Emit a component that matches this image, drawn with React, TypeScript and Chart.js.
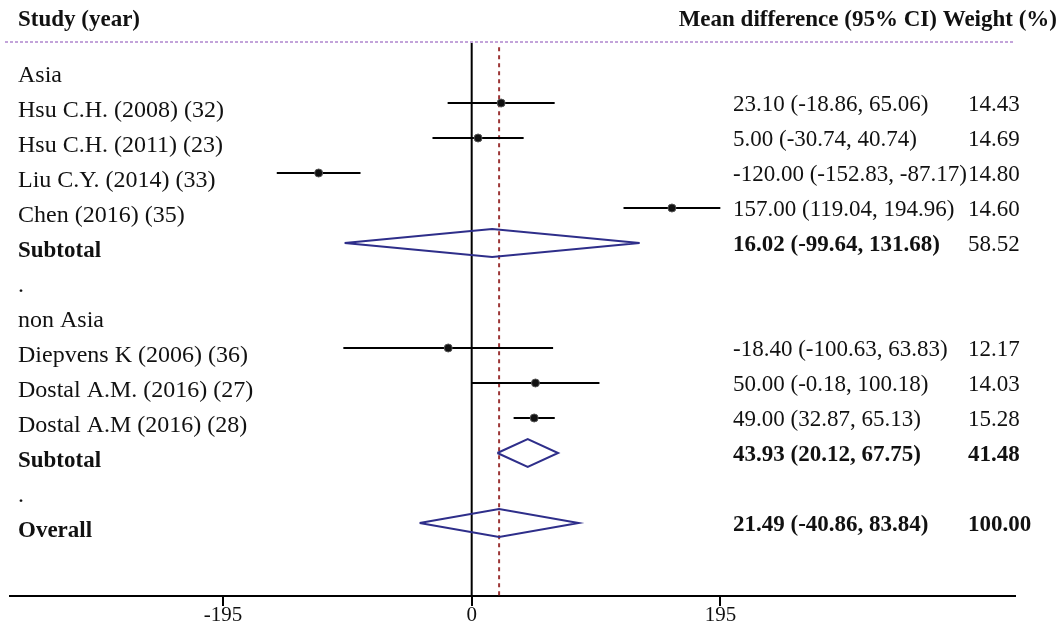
import React, { useEffect, useRef } from "react";
import { Chart, registerables } from "chart.js";

Chart.register(...registerables);

// ---------- data ----------
const headerLeft = "Study (year)";
const headerRight = "Mean difference (95% CI) Weight (%)";

const groupLabels = ["Asia", ".", "non Asia", "."];
const groupRows = [0, 6, 7, 12];

const studyLabels = [
  "Hsu C.H. (2008) (32)",
  "Hsu C.H. (2011) (23)",
  "Liu C.Y. (2014) (33)",
  "Chen (2016) (35)",
  "Diepvens K (2006) (36)",
  "Dostal A.M. (2016) (27)",
  "Dostal A.M (2016) (28)",
];
const studyRows = [1, 2, 3, 4, 8, 9, 10];
const studyMean = [23.1, 5.0, -120.0, 157.0, -18.4, 50.0, 49.0];
const studyLower = [-18.86, -30.74, -152.83, 119.04, -100.63, -0.18, 32.87];
const studyUpper = [65.06, 40.74, -87.17, 194.96, 63.83, 100.18, 65.13];
const studyWeight = ["14.43", "14.69", "14.80", "14.60", "12.17", "14.03", "15.28"];

const pooledLabels = ["Subtotal", "Subtotal", "Overall"];
const pooledRows = [5, 11, 13];
const pooledMean = [16.02, 43.93, 21.49];
const pooledLower = [-99.64, 20.12, -40.86];
const pooledUpper = [131.68, 67.75, 83.84];
const pooledWeight = ["58.52", "41.48", "100.00"];
const pooledWeightBold = [false, true, true];

const xTicks = [-195, 0, 195];
const overallEstimate = 21.49;

// ---------- layout / style ----------
const FONT = '"Liberation Serif", "Times New Roman", serif';
const TEXT_SIZE = 23;
const LEFT_SIZE = 24;
const X_MIN = -362;
const X_MAX = 426;
const Y_MIN = -0.743;
const Y_MAX = 15.086;
const DIAMOND_HALF = 0.4;
const DIAMOND_COLOR = "#2e2e8a";

const fmt = (m: number, l: number, u: number) =>
  `${m.toFixed(2)} (${l.toFixed(2)}, ${u.toFixed(2)})`;

const textPlugin = {
  id: "forestText",
  afterDraw(chart: any) {
    const ctx = chart.ctx as CanvasRenderingContext2D;
    const ys = chart.scales.y;
    const area = chart.chartArea;
    ctx.save();
    ctx.fillStyle = "#111";
    ctx.textBaseline = "middle";

    // headers
    ctx.font = `bold ${TEXT_SIZE}px ${FONT}`;
    ctx.textAlign = "left";
    ctx.fillText(headerLeft, 18, 20);
    ctx.textAlign = "right";
    ctx.fillText(headerRight, 1057, 20);

    // dotted rule under header
    ctx.strokeStyle = "#c3a4da";
    ctx.lineWidth = 2;
    ctx.setLineDash([3, 2]);
    ctx.beginPath();
    ctx.moveTo(5, area.top);
    ctx.lineTo(1013, area.top);
    ctx.stroke();
    ctx.setLineDash([]);

    ctx.textAlign = "left";
    const leftX = 18;
    const ciX = 733;
    const wX = 968;
    const leftOff = 8;
    const rightOff = 2;

    ctx.font = `${LEFT_SIZE}px ${FONT}`;
    groupLabels.forEach((lab, i) => {
      ctx.fillText(lab, leftX, ys.getPixelForValue(groupRows[i]) + leftOff);
    });
    studyLabels.forEach((lab, i) => {
      const py = ys.getPixelForValue(studyRows[i]);
      ctx.font = `${LEFT_SIZE}px ${FONT}`;
      ctx.fillText(lab, leftX, py + leftOff);
      ctx.font = `${TEXT_SIZE}px ${FONT}`;
      ctx.fillText(fmt(studyMean[i], studyLower[i], studyUpper[i]), ciX, py + rightOff);
      ctx.fillText(studyWeight[i], wX, py + rightOff);
    });
    pooledLabels.forEach((lab, i) => {
      const py = ys.getPixelForValue(pooledRows[i]);
      ctx.font = `bold ${LEFT_SIZE - 1}px ${FONT}`;
      ctx.fillText(lab, leftX, py + leftOff);
      ctx.font = `bold ${TEXT_SIZE}px ${FONT}`;
      ctx.fillText(fmt(pooledMean[i], pooledLower[i], pooledUpper[i]), ciX, py + rightOff);
      ctx.font = `${pooledWeightBold[i] ? "bold " : ""}${TEXT_SIZE}px ${FONT}`;
      ctx.fillText(pooledWeight[i], wX, py + rightOff);
    });
    ctx.restore();
  },
};

export default function App() {
  const ref = useRef<HTMLCanvasElement | null>(null);

  useEffect(() => {
    if (!ref.current) return;

    const ciSets = studyRows.map((r, i) => ({
      type: "line" as const,
      data: [
        { x: studyLower[i], y: r },
        { x: studyUpper[i], y: r },
      ],
      borderColor: "#000",
      borderWidth: 2,
      pointRadius: 0,
      fill: false,
      order: 3,
    }));

    const diamondSets = pooledRows.map((r, i) => ({
      type: "line" as const,
      data: [
        { x: pooledLower[i], y: r },
        { x: pooledMean[i], y: r - DIAMOND_HALF },
        { x: pooledUpper[i], y: r },
        { x: pooledMean[i], y: r + DIAMOND_HALF },
        { x: pooledLower[i], y: r },
      ],
      borderColor: DIAMOND_COLOR,
      borderWidth: 2,
      pointRadius: 0,
      fill: false,
      tension: 0,
      order: 2,
    }));

    const chart = new Chart(ref.current, {
      type: "scatter",
      data: {
        datasets: [
          {
            type: "line",
            data: [
              { x: 0, y: Y_MIN },
              { x: 0, y: Y_MAX },
            ],
            borderColor: "#000",
            borderWidth: 2,
            pointRadius: 0,
            order: 5,
          },
          {
            type: "line",
            data: [
              { x: overallEstimate, y: Y_MIN + 0.15 },
              { x: overallEstimate, y: Y_MAX },
            ],
            borderColor: "#9c3535",
            borderWidth: 2,
            borderDash: [4, 4],
            pointRadius: 0,
            order: 4,
          },
          ...ciSets,
          ...diamondSets,
          {
            type: "scatter",
            data: studyRows.map((r, i) => ({ x: studyMean[i], y: r })),
            backgroundColor: "#111",
            borderColor: "#555",
            borderWidth: 1,
            pointStyle: "circle",
            pointRadius: 4,
            order: 1,
          },
        ] as any,
      },
      options: {
        animation: false,
        responsive: false,
        layout: { padding: { left: 10, right: 49, top: 42, bottom: 0 } },
        plugins: {
          legend: { display: false },
          tooltip: { enabled: false },
        },
        scales: {
          x: {
            type: "linear",
            min: X_MIN,
            max: X_MAX,
            afterBuildTicks: (s: any) => {
              s.ticks = xTicks.map((v) => ({ value: v }));
            },
            afterFit: (s: any) => {
              s.height = 40;
            },
            ticks: {
              color: "#111",
              font: { family: FONT, size: 21 },
              padding: -3,
              callback: (v: any) => String(v),
            },
            grid: {
              drawOnChartArea: false,
              drawTicks: true,
              tickLength: 10,
              color: "#000",
              lineWidth: 2,
            },
            border: { display: true, color: "#000", width: 2 },
          },
          y: {
            type: "linear",
            reverse: true,
            min: Y_MIN,
            max: Y_MAX,
            display: false,
          },
        },
      } as any,
      plugins: [textPlugin],
    });

    return () => chart.destroy();
  }, []);

  return (
    <div style={{ position: "absolute", left: 0, top: 0, width: 1064, height: 636, background: "#fff" }}>
      <canvas ref={ref} width={1064} height={636} style={{ display: "block" }} />
    </div>
  );
}
